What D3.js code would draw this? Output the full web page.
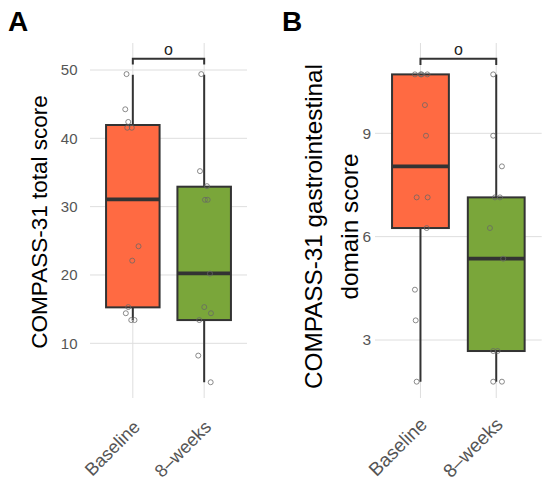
<!DOCTYPE html>
<html>
<head>
<meta charset="utf-8">
<script src="https://cdn.jsdelivr.net/npm/d3@7"></script>
<style>
  body { margin: 0; background: #fff; }
  text { font-family: "Liberation Sans", Arial, sans-serif; }
</style>
</head>
<body>
<div id="chart"></div>
<script>
// categories and colours
var groups = ["Baseline", "8\u2013weeks"];
var fills = ["#FF6A42", "#7AA63A"];

// panel A: COMPASS-31 total score
var ticksA = [10, 20, 30, 40, 50];
var loA  = [13.4, 4.3];
var q1A  = [15.26, 13.4];
var medA = [31.07, 20.23];
var q3A  = [41.95, 32.92];
var hiA  = [49.3, 49.3];
var ptsA = [
    [49.4, 44.25, 42.4, 41.55, 41.55, 24.2, 22.1, 15.3, 14.4, 13.4, 13.4],
    [49.4, 35.2, 33.0, 31.0, 31.0, 20.2, 15.3, 14.4, 13.4, 8.2, 4.3]
];
var jitA = [
    [-0.088, -0.106, -0.064, -0.078, -0.014, 0.08, -0.008, -0.064, -0.098, -0.022, 0.024],
    [-0.041, -0.059, 0.039, 0.011, 0.049, 0.081, 0.001, 0.095, -0.069, -0.083, 0.091]
];

// panel B: COMPASS-31 gastrointestinal domain score
var ticksB = [3, 6, 9];
var loB  = [1.79, 1.79];
var q1B  = [6.25, 2.68];
var medB = [8.04, 5.36];
var q3B  = [10.71, 7.14];
var hiB  = [10.71, 10.71];
var ptsB = [
    [10.71, 10.71, 10.71, 10.71, 9.82, 8.93, 7.14, 7.14, 6.25, 4.46, 3.57, 1.79],
    [10.71, 8.93, 8.04, 7.14, 7.14, 6.25, 5.36, 2.68, 2.68, 1.79, 1.79]
];
var jitB = [
    [-0.073, 0.003, 0.016, 0.09, 0.059, 0.073, -0.05, 0.095, 0.082, -0.073, -0.063, -0.05],
    [-0.04, -0.04, 0.075, -0.017, 0.049, -0.083, 0.092, -0.04, 0.018, -0.04, 0.075]
];

var svg = d3.select("#chart").append("svg")
    .attr("width", 550)
    .attr("height", 483);

function drawPanel(p) {
    var g = svg.append("g");

    var x = d3.scalePoint()
        .domain(groups)
        .range([p.left, p.right])
        .padding(0.6);
    var bw = x.step() * 0.75;

    var y = d3.scaleLinear()
        .domain(p.refDomain)
        .range(p.refRange);

    // grid
    g.selectAll(".hgrid").data(p.ticks).enter().append("line")
        .attr("x1", p.left).attr("x2", p.right)
        .attr("y1", d => y(d)).attr("y2", d => y(d))
        .attr("stroke", "#dedede").attr("stroke-width", 1);
    g.selectAll(".vgrid").data(groups).enter().append("line")
        .attr("x1", d => x(d)).attr("x2", d => x(d))
        .attr("y1", p.top).attr("y2", p.bottom)
        .attr("stroke", "#dedede").attr("stroke-width", 1);

    // y title
    var yt = g.append("text")
        .attr("transform", "translate(" + p.titleX + "," + p.titleY + ") rotate(-90)")
        .attr("text-anchor", "middle")
        .attr("fill", "#000")
        .style("font-size", p.titleFont + "px");
    p.title.forEach(function (line, k) {
        yt.append("tspan")
            .attr("x", 0)
            .attr("y", k * p.titleGap)
            .text(line);
    });

    // y tick labels
    var yAxis = g.append("g")
        .attr("transform", "translate(" + p.left + ",0)")
        .call(d3.axisLeft(y).tickValues(p.ticks).tickFormat(d3.format("d"))
            .tickSize(0).tickPadding(p.tickPad));
    yAxis.select(".domain").remove();
    yAxis.selectAll("text")
        .attr("fill", "#555")
        .style("font-size", p.tickFont + "px")
        .style("font-family", "Liberation Sans, Arial, sans-serif");

    // x labels
    g.selectAll(".xlab").data(groups).enter().append("text")
        .attr("transform", d => "translate(" + (x(d) + p.xlabDx) + "," + (p.bottom + p.xlabDy) + ") rotate(-45)")
        .attr("text-anchor", "end")
        .attr("dy", "0.72em")
        .attr("fill", "#555")
        .style("font-size", p.xFont + "px")
        .text(d => d);

    // whiskers
    g.selectAll(".whisk").data(groups).enter().append("line")
        .attr("x1", d => x(d)).attr("x2", d => x(d))
        .attr("y1", (d, i) => y(p.lo[i])).attr("y2", (d, i) => y(p.hi[i]))
        .attr("stroke", "#333").attr("stroke-width", 2);

    // boxes
    g.selectAll(".box").data(groups).enter().append("rect")
        .attr("x", d => x(d) - bw / 2)
        .attr("width", bw)
        .attr("y", (d, i) => y(p.q3[i]))
        .attr("height", (d, i) => y(p.q1[i]) - y(p.q3[i]))
        .attr("fill", (d, i) => fills[i])
        .attr("stroke", "#333").attr("stroke-width", 2);

    g.selectAll(".med").data(groups).enter().append("line")
        .attr("x1", d => x(d) - bw / 2).attr("x2", d => x(d) + bw / 2)
        .attr("y1", (d, i) => y(p.med[i])).attr("y2", (d, i) => y(p.med[i]))
        .attr("stroke", "#333").attr("stroke-width", 3.8);

    // points
    groups.forEach(function (grp, i) {
        g.selectAll(".pt" + i).data(p.pts[i]).enter().append("circle")
            .attr("cx", (d, j) => x(grp) + p.jit[i][j] * x.step())
            .attr("cy", d => y(d))
            .attr("r", 2.5)
            .attr("fill", "none")
            .attr("stroke", "#666")
            .attr("stroke-opacity", 0.85)
            .attr("stroke-width", 0.9);
    });

    // significance bracket
    var bx1 = x(groups[0]), bx2 = x(groups[1]);
    g.append("path")
        .attr("d", "M" + bx1 + "," + p.brTick + "V" + p.brY + "H" + bx2 + "V" + p.brTick)
        .attr("fill", "none")
        .attr("stroke", "#333").attr("stroke-width", 2);
    g.append("text")
        .attr("x", (bx1 + bx2) / 2)
        .attr("y", p.brY - 4)
        .attr("text-anchor", "middle")
        .attr("fill", "#222")
        .style("font-size", "16px")
        .text("o");

    // panel tag
    g.append("text")
        .attr("x", p.tagX).attr("y", 31)
        .attr("font-weight", "bold")
        .attr("fill", "#000")
        .style("font-size", "28px")
        .text(p.tag);
}

drawPanel({
    tag: "A", tagX: 8,
    left: 90, right: 247, top: 43, bottom: 398,
    refDomain: [10, 50], refRange: [343.3, 70],
    ticks: ticksA, tickPad: 12.5, tickFont: 15, xFont: 18, xlabDx: -1, xlabDy: 21,
    lo: loA, q1: q1A, med: medA, q3: q3A, hi: hiA, pts: ptsA, jit: jitA,
    brY: 58.7, brTick: 64.5,
    title: ["COMPASS-31 total score"], titleX: 47, titleY: 222, titleFont: 22.5, titleGap: 0
});

drawPanel({
    tag: "B", tagX: 282,
    left: 375, right: 541.7, top: 43, bottom: 398,
    refDomain: [3, 9], refRange: [340, 133.3],
    ticks: ticksB, tickPad: 4, tickFont: 15.5, xFont: 19, xlabDx: -2, xlabDy: 18,
    lo: loB, q1: q1B, med: medB, q3: q3B, hi: hiB, pts: ptsB, jit: jitB,
    brY: 58.7, brTick: 65,
    title: ["COMPASS-31 gastrointestinal", "domain score"], titleX: 321.5, titleY: 226.5, titleFont: 24.3, titleGap: 36.5
});
</script>
</body>
</html>
